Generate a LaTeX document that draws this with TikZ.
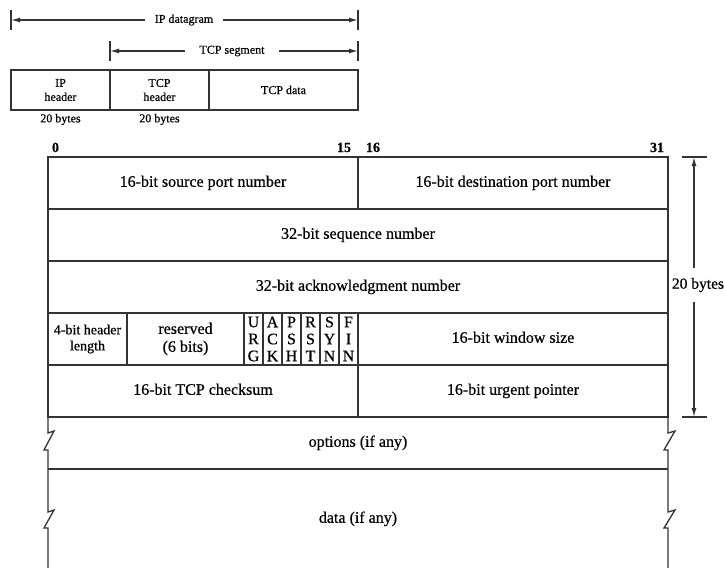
\documentclass[tikz,border=0pt]{standalone}
\usepackage{fontspec}
\setmainfont{Liberation Serif}[FakeBold=0.6]
\usetikzlibrary{positioning,arrows.meta}
\tikzset{>={Latex[length=9pt,width=5pt]}}

\begin{document}
\begin{tikzpicture}[x=1pt,y=-1pt,line width=1.3pt,draw=black!80]
    \tikzset{
    field/.style={draw, anchor=north west, minimum height=52pt, inner sep=0pt, outer sep=0pt, align=center, font=\fontsize{16}{18}\selectfont},
    one/.style={text height=11pt, text depth=3.5pt},
    small/.style={font=\fontsize{12}{14}\selectfont, align=center},
    box/.style={small, draw, anchor=north west, minimum height=40pt, inner sep=0pt, outer sep=0pt},
    bitno/.style={font=\fontsize{14}{14}\selectfont\bfseries},
    }
    \useasboundingbox (0,0) rectangle (724,568);

    % Encapsulation (IP datagram -- TCP segment).
    \coordinate (ipl)  at (11,20);  % IP datagram left
    \coordinate (ipr)  at (358,20); % IP datagram right
    \coordinate (tcpl) at (110,51); % TCP segment left
    \coordinate (tcpr) at (358,51); % TCP segment right
    \draw ([yshift=10pt]ipl) -- ([yshift=-10pt]ipl);
    \draw ([yshift=10pt]ipr) -- ([yshift=-10pt]ipr);
    \draw ([yshift=10pt]tcpl) -- ([yshift=-10pt]tcpl);
    \draw ([yshift=10pt]tcpr) -- ([yshift=-10pt]tcpr);
    \path (184,20) node [small, inner xsep=9pt] (ipd) {IP datagram};
    \path (232,51) node [small, inner xsep=14pt] (tcps) {TCP segment};
    \draw [->] (ipd) -- (ipl);
    \draw [->] (ipd) -- (ipr);
    \draw [->] (tcps) -- (tcpl);
    \draw [->] (tcps) -- (tcpr);

    \node [box, minimum width=99pt] (iph) at (11,70) {IP\\header};
    \node [box, minimum width=99pt, right=0pt of iph] (tcph) {TCP\\header};
    \node [box, minimum width=149pt, right=0pt of tcph] (tcpd) {TCP data};
    \node [small, below=0pt of iph] (iplen) {20 bytes};
    \node [small, below=0pt of tcph] (tcplen) {20 bytes};

    % Bit numbers.
    \node [bitno, anchor=base west] (b0)  at (48,152)  {0};
    \node [bitno, anchor=base east] (b15) at (355,152) {15};
    \node [bitno, anchor=base west] (b16) at (362,152) {16};
    \node [bitno, anchor=base east] (b31) at (668,152) {31};

    % Header fields.
    \node [field, one, minimum width=310pt] (srcport) at (48,157)  {16-bit source port number};
    \node [field, one, minimum width=310pt] (dstport) at (358,157) {16-bit destination port number};
    \node [field, one, minimum width=620pt] (seq)     at (48,209)  {32-bit sequence number};
    \node [field, one, minimum width=620pt] (ack)     at (48,261)  {32-bit acknowledgment number};
    \node [field, minimum width=79pt, font=\fontsize{14}{16}\selectfont] (hlen) at (48,313) {4-bit header\\length};
    \node [field, minimum width=117pt] (resv)    at (127,313) {reserved\\(6 bits)};
    \foreach \a/\b/\c [count=\i from 0] in {U/R/G,A/C/K,P/S/H,R/S/T,S/Y/N,F/I/N}
      \node [field, minimum width=19pt, font=\fontsize{16}{17}\selectfont] (flag\i) at ({244+19*\i},313) {\a\\\b\\\c};
    \node [field, one, minimum width=310pt] (win)     at (358,313) {16-bit window size};
    \node [field, one, minimum width=310pt] (cksum)   at (48,365)  {16-bit TCP checksum};
    \node [field, one, minimum width=310pt] (urg)     at (358,365) {16-bit urgent pointer};

    % Options and data (open at the bottom).
    \draw (48,469) -- (668,469);
    \draw (48,417) -- (48,433) -- (54,431) -- (44,450) -- (48,450) -- (48,512)
          -- (54,510) -- (44,528) -- (48,528) -- (48,568);
    \draw (668,417) -- (668,433) -- (675,431) -- (664,450) -- (668,450) -- (668,512)
          -- (675,510) -- (664,528) -- (668,528) -- (668,568);
    \path (358,443) node [font=\fontsize{16}{18}\selectfont, one] (opts) {options (if any)};
    \path (358,519) node [font=\fontsize{16}{18}\selectfont, one] (data) {data (if any)};

    % Header length (20 bytes).
    \coordinate (lentop) at (694,157);
    \coordinate (lenbot) at (694,417);
    \draw ([xshift=-12pt]lentop) -- ([xshift=13pt]lentop);
    \draw ([xshift=-12pt]lenbot) -- ([xshift=13pt]lenbot);
    \node [font=\fontsize{15.5}{17}\selectfont, inner xsep=0pt, inner ysep=9pt] (len) at (698,285) {20 bytes};
    \draw [->] (len.north -| lentop) -- (lentop);
    \draw [->] (len.south -| lentop) -- (lenbot);
\end{tikzpicture}
\end{document}
